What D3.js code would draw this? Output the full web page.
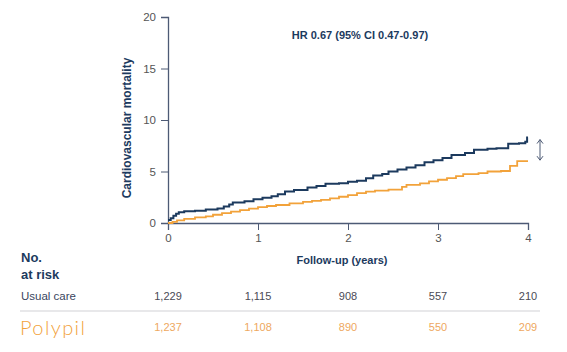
<!DOCTYPE html>
<html>
<head>
<meta charset="utf-8">
<script src="https://cdn.jsdelivr.net/npm/d3@7"></script>
<style>
  body { margin: 0; background: #fff; font-family: "Liberation Sans", Arial, sans-serif; }
  .tick text { fill: #555; font-size: 11.5px; }
  .axis path, .axis line { stroke: #4d5a75; }
</style>
</head>
<body>
<div id="chart"></div>
<script>
// cumulative cardiovascular mortality (%) step points [year, value]
const usualCare = [
  [0, 0.3], [0.03, 0.45], [0.06, 0.7], [0.09, 0.9], [0.12, 1.05], [0.18, 1.15], [0.3, 1.2],
  [0.42, 1.3], [0.55, 1.4], [0.62, 1.6], [0.68, 1.8], [0.72, 2.0], [0.85, 2.1], [0.95, 2.3],
  [1.05, 2.45], [1.15, 2.6], [1.22, 2.8], [1.3, 3.05], [1.4, 3.2], [1.55, 3.45], [1.65, 3.6],
  [1.75, 3.8], [1.9, 3.85], [2.0, 4.0], [2.1, 4.1], [2.2, 4.35], [2.28, 4.6], [2.38, 4.75],
  [2.45, 5.0], [2.55, 5.2], [2.65, 5.4], [2.75, 5.6], [2.85, 5.9], [2.95, 6.1], [3.05, 6.3],
  [3.15, 6.6], [3.3, 6.8], [3.4, 7.1], [3.55, 7.2], [3.65, 7.25], [3.78, 7.7], [3.9, 7.75],
  [3.97, 7.9], [3.99, 8.3], [4.0, 8.3]
];
const polypil = [
  [0, 0], [0.05, 0.1], [0.1, 0.25], [0.18, 0.4], [0.3, 0.55], [0.42, 0.65], [0.5, 0.8],
  [0.6, 0.95], [0.7, 1.1], [0.8, 1.25], [0.9, 1.4], [1.0, 1.55], [1.1, 1.65], [1.2, 1.75],
  [1.35, 1.9], [1.5, 2.05], [1.6, 2.15], [1.7, 2.25], [1.8, 2.4], [1.9, 2.55], [2.0, 2.7],
  [2.1, 2.9], [2.2, 3.05], [2.3, 3.15], [2.45, 3.25], [2.6, 3.5], [2.65, 3.7], [2.8, 3.85],
  [2.9, 4.05], [3.0, 4.2], [3.1, 4.35], [3.2, 4.55], [3.28, 4.75], [3.45, 4.85], [3.55, 5.0],
  [3.7, 5.05], [3.8, 5.55], [3.88, 6.0], [4.0, 6.0]
];
const xTicks = [0, 1, 2, 3, 4];
const yTicks = [0, 5, 10, 15, 20];
const atRiskUsual = ["1,229", "1,115", "908", "557", "210"];
const atRiskPolypil = ["1,237", "1,108", "890", "550", "209"];

const navy = "#1c3a5e";
const orange = "#f2a23a";

const W = 567, H = 352;
const svg = d3.select("#chart").append("svg").attr("width", W).attr("height", H);

const x = d3.scaleLinear().domain([0, 4]).range([168, 528]);
const y = d3.scaleLinear().domain([0, 20]).range([223, 17]);

// axes
svg.append("g").attr("class", "axis")
  .attr("transform", "translate(0,223)")
  .call(d3.axisBottom(x).tickValues(xTicks).tickSize(7).tickPadding(4).tickFormat(d3.format("d")))
  .call(g => g.select(".domain").attr("stroke-width", 1.3));

svg.append("g").attr("class", "axis")
  .attr("transform", "translate(168,0)")
  .call(d3.axisLeft(y).tickValues(yTicks).tickSize(7).tickPadding(5))
  .call(g => g.select(".domain").attr("stroke-width", 1.3));

// curves
const line = d3.line().x(d => x(d[0])).y(d => y(d[1])).curve(d3.curveStepAfter);
svg.append("path").datum(polypil).attr("d", line)
  .attr("fill", "none").attr("stroke", orange).attr("stroke-width", 1.8);
svg.append("path").datum(usualCare).attr("d", line)
  .attr("fill", "none").attr("stroke", navy).attr("stroke-width", 2);

// double arrow between the curve ends
const ax = 540, ay1 = y(8.1), ay2 = y(6.1);
svg.append("line").attr("x1", ax).attr("x2", ax).attr("y1", ay1).attr("y2", ay2)
  .attr("stroke", "#4d5a75").attr("stroke-width", 1);
svg.append("path").attr("d", `M${ax - 3},${ay1 + 4} L${ax},${ay1} L${ax + 3},${ay1 + 4}`)
  .attr("fill", "none").attr("stroke", "#4d5a75").attr("stroke-width", 1);
svg.append("path").attr("d", `M${ax - 3},${ay2 - 4} L${ax},${ay2} L${ax + 3},${ay2 - 4}`)
  .attr("fill", "none").attr("stroke", "#4d5a75").attr("stroke-width", 1);

// titles
svg.append("text").attr("x", 360).attr("y", 39).attr("text-anchor", "middle")
  .attr("fill", navy).attr("font-weight", "bold").attr("font-size", 11)
  .text("HR 0.67 (95% CI 0.47-0.97)");

svg.append("text")
  .attr("transform", "translate(131,128) rotate(-90)")
  .attr("text-anchor", "middle").attr("fill", navy).attr("font-weight", "bold").attr("font-size", 12)
  .text("Cardiovascular mortality");

svg.append("text").attr("x", 342).attr("y", 264).attr("text-anchor", "middle")
  .attr("fill", navy).attr("font-weight", "bold").attr("font-size", 11)
  .text("Follow-up (years)");

// number at risk table
svg.append("text").attr("x", 21).attr("y", 262).attr("fill", navy)
  .attr("font-weight", "bold").attr("font-size", 13).text("No.");
svg.append("text").attr("x", 21).attr("y", 279).attr("fill", navy)
  .attr("font-weight", "bold").attr("font-size", 13).text("at risk");

svg.append("text").attr("x", 21).attr("y", 300).attr("fill", "#3a4660")
  .attr("font-size", 11.5).text("Usual care");

svg.append("line").attr("x1", 20).attr("x2", 540).attr("y1", 311).attr("y2", 311)
  .attr("stroke", "#e8e8ea").attr("stroke-width", 2);

svg.append("text").attr("x", 20).attr("y", 335).attr("fill", orange)
  .attr("font-family", "Lato, sans-serif").attr("font-weight", 300)
  .attr("font-size", 20).attr("letter-spacing", 1.4).text("Polypil");

svg.selectAll(".risk-usual").data(atRiskUsual).enter().append("text")
  .attr("class", "risk-usual")
  .attr("x", (d, i) => x(xTicks[i])).attr("y", 300).attr("text-anchor", "middle")
  .attr("fill", "#4a4a55").attr("font-size", 11).text(d => d);

svg.selectAll(".risk-poly").data(atRiskPolypil).enter().append("text")
  .attr("class", "risk-poly")
  .attr("x", (d, i) => x(xTicks[i])).attr("y", 331).attr("text-anchor", "middle")
  .attr("fill", "#eea860").attr("font-size", 11).text(d => d);
</script>
</body>
</html>
